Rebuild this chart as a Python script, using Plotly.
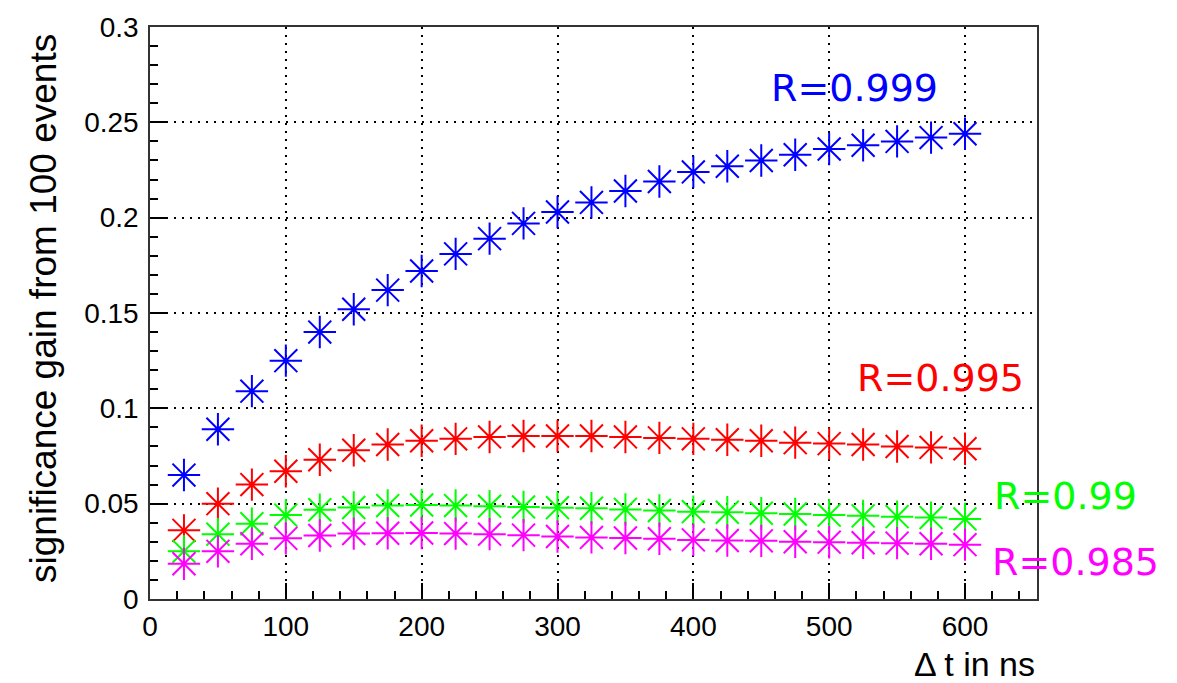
import plotly.graph_objects as go

dt_ns = [25, 50, 75, 100, 125, 150, 175, 200, 225, 250, 275, 300,
         325, 350, 375, 400, 425, 450, 475, 500, 525, 550, 575, 600]

gain_r0999 = [0.065, 0.089, 0.109, 0.125, 0.140, 0.152, 0.162, 0.172, 0.181, 0.189, 0.197, 0.203,
              0.208, 0.214, 0.219, 0.224, 0.227, 0.230, 0.233, 0.236, 0.238, 0.240, 0.242, 0.244]
gain_r0995 = [0.036, 0.050, 0.060, 0.067, 0.073, 0.078, 0.081, 0.083, 0.084, 0.085, 0.0855, 0.0855,
              0.0855, 0.085, 0.0845, 0.084, 0.0835, 0.083, 0.082, 0.0815, 0.081, 0.080, 0.0795, 0.0788]
gain_r099 = [0.025, 0.034, 0.0395, 0.044, 0.0468, 0.048, 0.049, 0.0493, 0.049, 0.0487, 0.0483, 0.0479,
             0.0476, 0.047, 0.0464, 0.0458, 0.0455, 0.045, 0.0446, 0.044, 0.0436, 0.0432, 0.0427, 0.042]
gain_r0985 = [0.0185, 0.025, 0.029, 0.0318, 0.0333, 0.0343, 0.0345, 0.0346, 0.0343, 0.034, 0.0335, 0.0328,
              0.0323, 0.032, 0.0316, 0.031, 0.0307, 0.0305, 0.030, 0.0298, 0.0295, 0.0293, 0.029, 0.0285]

X_RANGE = [0, 653]
Y_RANGE = [0, 0.3]

series = [
    ("R=0.999", gain_r0999, "#0000ff", 519, 0.268),
    ("R=0.995", gain_r0995, "#ff0000", 582, 0.116),
    ("R=0.99", gain_r099, "#00ff00", 674, 0.054),
    ("R=0.985", gain_r0985, "#ff00ff", 681, 0.0196),
]

fig = go.Figure()
for name, vals, col, lx, ly in series:
    fig.add_trace(go.Scatter(
        x=dt_ns, y=vals, mode="markers", name=name,
        marker=dict(symbol="asterisk-open", size=27, color=col,
                    line=dict(color=col, width=2)),
        cliponaxis=False, showlegend=False))
    px = (lx - X_RANGE[0]) / (X_RANGE[1] - X_RANGE[0])
    py = (ly - Y_RANGE[0]) / (Y_RANGE[1] - Y_RANGE[0])
    fig.add_annotation(x=px, y=py, xref="paper", yref="paper", text=name, showarrow=False,
                       font=dict(family="DejaVu Sans", size=38, color=col),
                       xanchor="center", yanchor="middle")

fig.add_annotation(xref="paper", yref="paper", x=1.0, y=-0.113, text="Δ t in ns",
                   showarrow=False, xanchor="right", yanchor="middle",
                   font=dict(family="Liberation Sans, Arial", size=34, color="black"))
fig.add_annotation(xref="paper", yref="paper", x=-0.12, y=0.508,
                   text="significance gain from 100 events", textangle=-90,
                   showarrow=False, xanchor="center", yanchor="middle",
                   font=dict(family="Liberation Sans, Arial", size=37, color="black"))

tickfont = dict(family="Liberation Sans, Arial", size=28, color="black")

fig.update_xaxes(range=X_RANGE, tickmode="linear", tick0=0, dtick=100,
                 ticks="inside", ticklen=16, tickwidth=1.5, tickcolor="black",
                 minor=dict(dtick=20, ticks="inside", ticklen=8, tickwidth=1.5, tickcolor="black",
                            showgrid=False),
                 showgrid=True, gridcolor="black", gridwidth=1.5, griddash="2px,6px",
                 showline=True, linecolor="#333", linewidth=1.5, mirror=True,
                 zeroline=False, tickfont=tickfont, ticklabelstandoff=2)
fig.update_yaxes(range=Y_RANGE,
                 tickvals=[0, 0.05, 0.1, 0.15, 0.2, 0.25, 0.3],
                 ticktext=["0", "0.05", "0.1", "0.15", "0.2", "0.25", "0.3"],
                 ticks="inside", ticklen=16, tickwidth=1.5, tickcolor="black",
                 minor=dict(dtick=0.01, ticks="inside", ticklen=8, tickwidth=1.5, tickcolor="black",
                            showgrid=False),
                 showgrid=True, gridcolor="black", gridwidth=1.5, griddash="2px,6px",
                 showline=True, linecolor="#333", linewidth=1.5, mirror=True,
                 zeroline=False, tickfont=tickfont, ticklabelstandoff=4)

fig.update_layout(width=1177, height=683, plot_bgcolor="white", paper_bgcolor="white",
                  margin=dict(l=150, r=140, t=17, b=84), showlegend=False)

fig.write_html("out.html")
